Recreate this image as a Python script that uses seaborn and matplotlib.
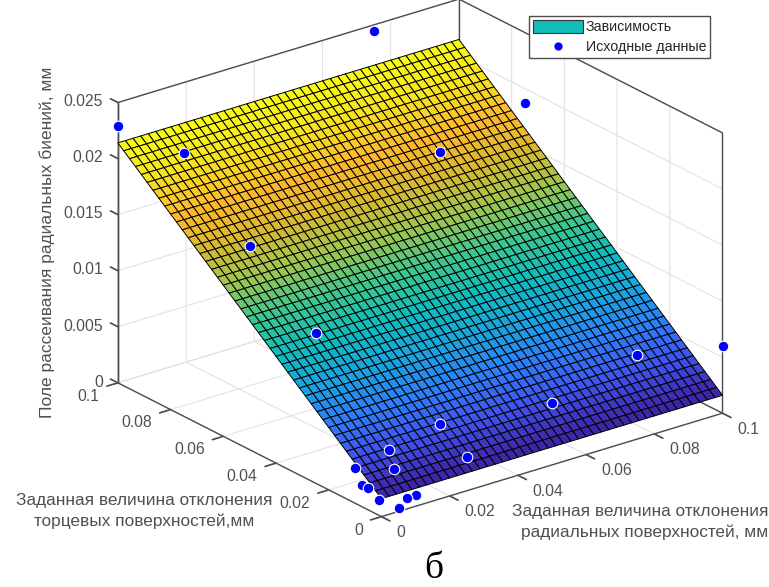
"""
plot.py
Fitted surface and source points, radial runout spread (panel b)
"""

import numpy as np
import matplotlib
matplotlib.use('Agg')
import matplotlib.pyplot as plt
from matplotlib.lines import Line2D
from matplotlib.patches import Patch
import seaborn as sns

# Source points
x_points = [0, 0, 0, 0, 0, 0, 0, 0,
            0.1, 0.075, 0.05, 0.025, 0.01, 0.0075, 0.005,
            0.075, 0.1, 0.075, 0.025, 0.01, 0.0075]
y_points = [0.1, 0.075, 0.05, 0.025, 0.01, 0.0075, 0.005, 0.001,
            0, 0, 0, 0, 0, 0, 0,
            0.1, 0.075, 0.075, 0.01, 0.01, 0.005]
z_points = [0.0229, 0.0235, 0.0182, 0.0134, 0.0031, 0.0019, 0.0020, 0.0014,
            0.0060, 0.0075, 0.0055, 0.0030, 0.0010, 0.0010, 0.0003,
            0.0245, 0.0187, 0.01665, 0.0048, 0.0038, 0.0030]

# Fitted plane, heights at its corners
grid_cells = 45
z_at_origin = 0.0016
z_at_x_end = 0.0016
z_at_y_end = 0.0214

ticks_xy = [0, 0.02, 0.04, 0.06, 0.08, 0.1]
ticklabels_xy = ['0', '0.02', '0.04', '0.06', '0.08', '0.1']
ticks_z = [0, 0.005, 0.01, 0.015, 0.02, 0.025]
ticklabels_z = ['0', '0.005', '0.01', '0.015', '0.02', '0.025']

parula_colors = ['#3e26a8', '#4150ec', '#2d7dfb', '#1aa3e0', '#0dbcbc', '#3cc68f',
                 '#9cc650', '#d9b92f', '#feb72d', '#f7e01f', '#f9fb15']

sns.set_theme(style='white')
plt.rcParams['font.family'] = ['Liberation Sans', 'DejaVu Sans']

AXIS_COLOR = '#4d4d4d'
TEXT_COLOR = '#505050'

fig = plt.figure(figsize=(7.69, 5.87), dpi=100)
ax = fig.add_axes([80.45 / 769, -10.6 / 587, 661.6 / 769, 661.6 / 587],
                  projection='3d', proj_type='ortho', computed_zorder=False)
ax.patch.set_alpha(0)
ax.view_init(elev=23.1, azim=232.3)
ax.set_box_aspect((1, 1, 0.707))

ax.set_xlim(0, 0.1, view_margin=0)
ax.set_ylim(0, 0.1, view_margin=0)
ax.set_zlim(0, 0.025, view_margin=0)
ax.set_xticks(ticks_xy, ticklabels_xy, ha='left', va='bottom')
ax.set_yticks(ticks_xy, ticklabels_xy, ha='right', va='bottom')
ax.set_zticks(ticks_z, ticklabels_z, ha='right', va='center')
ax.tick_params(axis='both', labelsize=11.3, labelcolor=TEXT_COLOR, color=AXIS_COLOR, width=1.0)
ax.tick_params(axis='x', pad=6)
ax.tick_params(axis='y', pad=5.5)
ax.tick_params(axis='z', pad=-2)

for axis in (ax.xaxis, ax.yaxis, ax.zaxis):
    axis.set_pane_color((1, 1, 1, 1))
    axis.pane.set_edgecolor((1, 1, 1, 0))
    axis.line.set_color(AXIS_COLOR)
    axis.line.set_linewidth(1.0)
    axis._axinfo['grid'].update(color='#e2e2e2', linewidth=0.8)
    axis._axinfo['tick'].update(inward_factor=0.4, outward_factor=0.0)
ax.zaxis._axinfo['tick'].update(inward_factor=0.0, outward_factor=0.35)
# z ticks point along y here, not along x
ax.zaxis._get_tickdir = lambda position: 1

# Rim of the box
rim_x = [0, 0.1, 0.1, 0.1, 0.1]
rim_y = [0.1, 0.1, 0, 0, 0.1]
rim_z = [0.025, 0.025, 0.025, 0, 0]
ax.plot(rim_x, rim_y, rim_z, color=AXIS_COLOR, lw=1.0, zorder=2)
ax.plot([0, 0], [0.1, 0.1], [0, 0.025], color=AXIS_COLOR, lw=1.0, zorder=2)
ax.plot([0.1, 0.1], [0.1, 0.1], [0, 0.025], color=AXIS_COLOR, lw=1.0, zorder=2)

# Surface
xs = np.linspace(0, 0.1, grid_cells + 1)
ys = np.linspace(0, 0.1, grid_cells + 1)
X, Y = np.meshgrid(xs, ys)
Z = z_at_origin + (z_at_x_end - z_at_origin) * X / 0.1 + (z_at_y_end - z_at_origin) * Y / 0.1
parula = sns.blend_palette(parula_colors, as_cmap=True)
ax.plot_surface(X, Y, Z, rstride=1, cstride=1, cmap=parula, edgecolor='black',
                linewidth=0.7, shade=False, antialiased=True, zorder=3)

ax.scatter(x_points, y_points, z_points, s=58, c='#0000ff', edgecolors='white',
           linewidths=0.8, depthshade=False, zorder=4, clip_on=False)

# Axis titles
fig.text(47 / 769, 1 - 242 / 587, 'Поле рассеивания радиальных биений, мм', rotation=90,
         ha='center', va='center', fontsize=12.5, color=TEXT_COLOR)
fig.text(144 / 769, 1 - 511 / 587, 'Заданная величина отклонения\nторцевых поверхностей,мм',
         ha='center', va='center', fontsize=12.4, color=TEXT_COLOR, linespacing=1.45)
fig.text(768 / 769, 1 - 522 / 587, 'Заданная величина отклонения\nрадиальных поверхностей, мм',
         ha='right', va='center', fontsize=12.4, color=TEXT_COLOR, linespacing=1.45, multialignment='right')
fig.text(434 / 769, 1 - 578.5 / 587, 'б', ha='center', va='baseline', fontsize=27,
         family=['Liberation Serif'], color='black')

legend_handles = [
    Patch(facecolor='#13bdb8', edgecolor='#333333', linewidth=0.8, label='Зависимость'),
    Line2D([], [], linestyle='none', marker='o', markersize=6.5, markerfacecolor='#0000ff',
           markeredgecolor='white', markeredgewidth=0.5, label='Исходные данные'),
]
fig.legend(handles=legend_handles, loc='upper left', bbox_to_anchor=(529 / 769, 1 - 16 / 587),
           fontsize=10.3, frameon=True, fancybox=False, framealpha=1, edgecolor='#4d4d4d',
           handlelength=3.5, handleheight=1.1, handletextpad=0.2, borderpad=0.25, labelspacing=0.38,
           labelcolor='#262626', borderaxespad=0)

fig.savefig('out.png', dpi=100)
